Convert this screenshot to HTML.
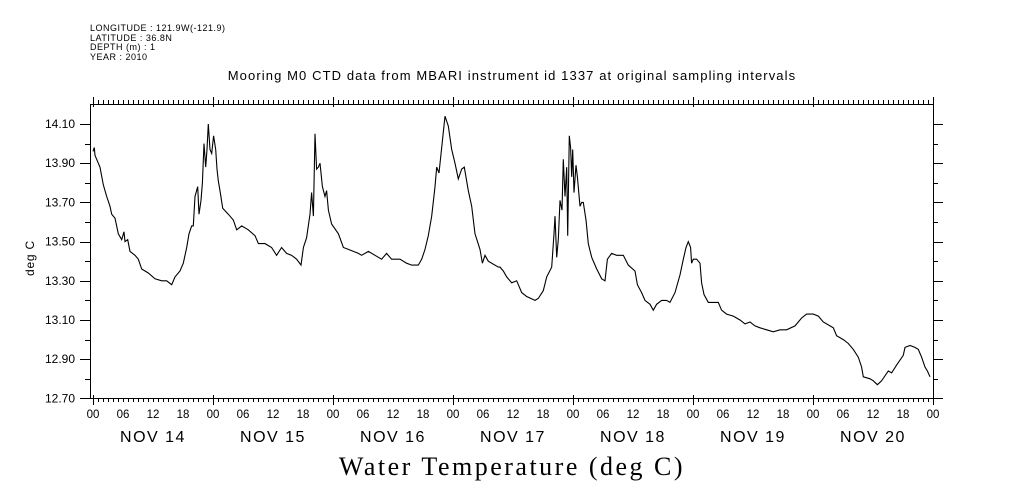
<!DOCTYPE html>
<html><head><meta charset="utf-8">
<style>
body{margin:0;background:#fff;}
svg{display:block;}
text{font-family:"Liberation Sans",sans-serif;fill:#000;}
</style></head>
<body>
<svg id="chart" width="1009" height="504" viewBox="0 0 1009 504" xmlns="http://www.w3.org/2000/svg">
<g font-size="9" letter-spacing="0.5">
<text x="90" y="31">LONGITUDE : 121.9W(-121.9)</text>
<text x="90" y="41">LATITUDE : 36.8N</text>
<text x="90" y="50">DEPTH (m) : 1</text>
<text x="90" y="60">YEAR : 2010</text>
</g>
<text x="512" y="80" font-size="13" letter-spacing="1.1" text-anchor="middle">Mooring M0 CTD data from MBARI instrument id 1337 at original sampling intervals</text>
<text transform="translate(34,258) rotate(-90)" font-size="12" letter-spacing="0.8" text-anchor="middle">deg C</text>
<text x="512" y="475" font-size="26" letter-spacing="2.5" text-anchor="middle" style="font-family:'Liberation Serif',serif">Water Temperature (deg C)</text>
<g id="axes"></g>
<path id="line" fill="none" stroke="#000" stroke-width="1.1"></path>
</svg>
<script>
const hours=[0,0.27,0.4,1.07,1.4,2.07,2.73,3.4,3.73,4.4,5.07,5.73,6.2,6.4,6.93,7.4,8.4,9.07,9.73,11.07,12.4,13.73,14.73,15.73,16.4,17.4,18.07,18.73,19.2,19.73,20.07,20.4,20.93,21.2,21.6,21.87,22.2,22.53,22.8,23.07,23.4,23.73,24.13,24.53,24.8,25.07,25.47,25.93,27.07,28.07,28.73,29.73,31.07,32.4,33.07,34.4,35.73,36.73,37.73,38.73,39.73,40.73,41.6,42.07,42.73,43.4,43.73,44.07,44.4,44.73,45.07,45.4,45.87,46.4,46.73,47.07,47.73,49.07,50.07,51.07,53.07,53.73,55.07,56.4,57.73,58.73,59.73,61.4,62.73,63.73,65.07,65.73,66.4,67.07,67.73,68.4,68.73,69.2,69.73,70.4,71.07,71.73,72.4,73.07,73.73,74.27,75.07,75.73,76.4,77.4,77.87,78.4,79.07,81.07,
81.4,82.07,82.73,83.73,84.73,85.73,86.73,88.4,89.07,90.07,90.73,91.73,92.2,92.4,92.73,93.07,93.4,93.8,94.07,94.4,94.73,94.93,95.27,95.53,95.73,95.93,96.2,96.6,96.87,97.4,97.73,98.07,98.6,99.07,99.73,100.73,101.73,102.4,102.87,103.73,104.73,106.07,107.07,108.4,108.87,109.73,110.4,111.4,112.07,112.73,113.73,114.73,115.4,116.4,117.4,118.07,118.6,119.07,119.53,119.73,120.07,120.73,121.4,121.73,122.2,123.07,124.07,125.07,125.73,126.73,128.07,129.4,130.4,131.4,132.4,133.4,134.73,136.07,137.4,138.73,140.4,141.73,142.73,144.07,145.07,146.07,147.4,148.07,148.73,150.07,151.07,152.07,153.07,153.73,154.07,155.4,156.07,156.87,157.73,159.07,159.73,160.73,162.07,162.4,163.4,164.4,165.07,165.73,166.4,166.87,167.4];
const temps=[13.96,13.98,13.94,13.90,13.88,13.79,13.73,13.68,13.64,13.62,13.54,13.51,13.55,13.50,13.51,13.45,13.43,13.41,13.36,13.34,13.31,13.30,13.30,13.28,13.32,13.35,13.39,13.47,13.54,13.58,13.58,13.73,13.78,13.64,13.71,13.80,14.00,13.88,13.97,14.10,13.97,13.95,14.04,13.97,13.87,13.81,13.75,13.67,13.64,13.61,13.56,13.58,13.56,13.53,13.49,13.49,13.47,13.43,13.47,13.44,13.43,13.41,13.38,13.47,13.52,13.64,13.75,13.63,14.05,13.87,13.88,13.90,13.78,13.73,13.76,13.66,13.59,13.54,13.47,13.46,13.44,13.43,13.45,13.43,13.41,13.44,13.41,13.41,13.39,13.38,13.38,13.41,13.46,13.53,13.63,13.78,13.88,13.85,13.98,14.14,14.09,13.97,13.90,13.82,13.87,13.88,13.76,13.68,13.54,13.46,13.39,13.43,13.40,13.37,
13.37,13.35,13.32,13.29,13.30,13.24,13.22,13.20,13.21,13.25,13.32,13.37,13.54,13.63,13.42,13.51,13.71,13.66,13.92,13.73,13.88,13.53,14.04,13.98,13.83,13.97,13.75,13.89,13.83,13.68,13.70,13.70,13.61,13.49,13.42,13.36,13.31,13.30,13.41,13.44,13.43,13.43,13.38,13.35,13.28,13.24,13.20,13.18,13.15,13.18,13.20,13.20,13.19,13.24,13.33,13.41,13.47,13.50,13.47,13.39,13.41,13.41,13.39,13.29,13.23,13.19,13.19,13.19,13.15,13.13,13.12,13.10,13.08,13.09,13.07,13.06,13.05,13.04,13.05,13.05,13.07,13.11,13.13,13.13,13.12,13.09,13.07,13.06,13.02,13.00,12.98,12.95,12.91,12.86,12.81,12.80,12.79,12.77,12.79,12.84,12.83,12.87,12.92,12.96,12.97,12.96,12.95,12.91,12.86,12.84,12.81];
const yTickLabels=["14.10","13.90","13.70","13.50","13.30","13.10","12.90","12.70"];
const hourLabels=["00","06","12","18"];
const dayLabels=["NOV 14","NOV 15","NOV 16","NOV 17","NOV 18","NOV 19","NOV 20"];

const L=90,R=933,T=104,B=398;
function xs(h){return 93+h*5;}
function ys(v){return 124+(14.10-v)*196;}
const NS="http://www.w3.org/2000/svg";
const ax=document.getElementById('axes');
function ln(x1,y1,x2,y2,name){const e=document.createElementNS(NS,'line');e.setAttribute('x1',x1);e.setAttribute('y1',y1);e.setAttribute('x2',x2);e.setAttribute('y2',y2);e.setAttribute('stroke','#000');e.setAttribute('stroke-width','1');


ax.appendChild(e);return e;}
function tx(x,y,s,size,anchor,name){const e=document.createElementNS(NS,'text');e.setAttribute('x',x);e.setAttribute('y',y);e.setAttribute('font-size',size);e.setAttribute('text-anchor',anchor);e.textContent=s;


ax.appendChild(e);return e;}
const fr=document.createElementNS(NS,'rect');
fr.setAttribute('x',L+0.5);fr.setAttribute('y',T+0.5);fr.setAttribute('width',R-L);fr.setAttribute('height',B-T);fr.setAttribute('fill','none');fr.setAttribute('stroke','#000');


ax.appendChild(fr);
for(let i=0;i<=14;i++){const v=14.10-i*0.1;const y=Math.round(ys(v))+0.5;const major=i%2===0;
ln(major?80:85,y,L,y,'y-tick');ln(R,y,major?943:938,y,'y-tick-right');}
yTickLabels.forEach(s=>{tx(75,ys(parseFloat(s))+4,s,12,'end','y-tick-label');});
for(let h=0;h<=168;h++){const x=Math.round(xs(h))+0.5;const day=h%24===0;
ln(x,day?B-3:B,x,day?B+7:B+4,'x-tick');ln(x,day?T-7:T-4,x,day?T+3:T,'x-tick-top');
if(h%6===0)tx(xs(h),418,hourLabels[(h/6)%4],11.5,'middle','hour-label');}
dayLabels.forEach((d,i)=>{const t=tx(xs(i*24+12),442,d,16,'middle','day-label');t.setAttribute('letter-spacing','1.5');});
let dstr='';
hours.forEach((h,i)=>{dstr+=(i?'L':'M')+xs(h).toFixed(1)+','+ys(temps[i]).toFixed(1);});
document.getElementById('line').setAttribute('d',dstr);
</script>
</body></html>
